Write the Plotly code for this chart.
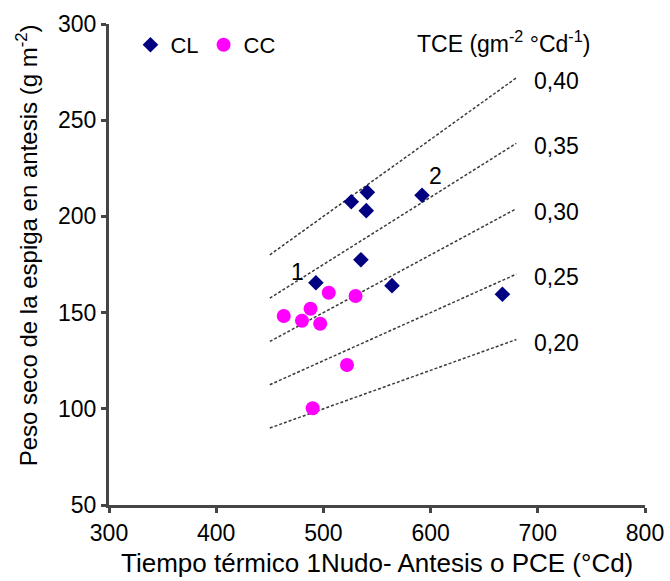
import plotly.graph_objects as go

# Data
cl_x = [526, 541, 540, 592, 535, 493, 564, 667]
cl_y = [207.6, 212.5, 203, 211, 177.5, 165.5, 164, 159.5]
cc_x = [505, 530, 463, 488, 480, 497, 522, 490]
cc_y = [160.3, 158.6, 148.2, 152, 145.8, 144.2, 122.8, 100.3]

tce_values = [0.20, 0.25, 0.30, 0.35, 0.40]
tce_labels = ["0,20", "0,25", "0,30", "0,35", "0,40"]
line_x = [450, 680]

x_ticks = [300, 400, 500, 600, 700, 800]
y_ticks = [50, 100, 150, 200, 250, 300]

FONT = "Liberation Sans, Arial, sans-serif"
AXIS_COLOR = "#454545"
TXT = 23

fig = go.Figure()

for t in tce_values:
    fig.add_trace(go.Scatter(
        x=line_x, y=[t * v for v in line_x], mode="lines",
        line=dict(color="#3a3a3a", width=1.5, dash="3px,2px"),
        showlegend=False, hoverinfo="skip"))

fig.add_trace(go.Scatter(
    x=cl_x, y=cl_y, mode="markers", name="CL",
    marker=dict(symbol="diamond", size=12, color="#000080")))
fig.add_trace(go.Scatter(
    x=cc_x, y=cc_y, mode="markers", name="CC",
    marker=dict(symbol="circle", size=14, color="#FF00FF")))

annotations = []
for t, lab in zip(tce_values, tce_labels):
    annotations.append(dict(x=695, y=t * 680, yshift=-3, text=lab, showarrow=False,
                            xanchor="left", yanchor="middle",
                            font=dict(size=TXT, color="black", family=FONT)))
annotations.append(dict(x=585, y=290.5, text="TCE (gm<sup>-2</sup> °Cd<sup>-1</sup>)",
                        showarrow=False, xanchor="left", yanchor="middle",
                        font=dict(size=TXT, color="black", family=FONT)))
annotations.append(dict(x=476, y=171, text="1", showarrow=False,
                        font=dict(size=TXT, color="black", family=FONT)))
annotations.append(dict(x=605, y=221, text="2", showarrow=False,
                        font=dict(size=TXT, color="black", family=FONT)))
# axis titles
annotations.append(dict(xref="paper", yref="paper", x=0, y=0.54, xshift=-82,
                        text="Peso seco de la espiga en antesis (g m<sup>-2</sup>)",
                        textangle=-90, showarrow=False,
                        xanchor="center", yanchor="middle",
                        font=dict(size=24, color="black", family=FONT)))
annotations.append(dict(xref="paper", yref="paper", x=0.5, y=0, yshift=-58,
                        text="Tiempo térmico 1Nudo- Antesis o PCE (°Cd)",
                        showarrow=False, xanchor="center", yanchor="middle",
                        font=dict(size=26, color="black", family=FONT)))

fig.update_layout(
    width=670, height=581,
    margin=dict(l=109, r=25, t=24, b=76),
    paper_bgcolor="white", plot_bgcolor="white",
    font=dict(family=FONT, size=TXT, color="black"),
    annotations=annotations,
    legend=dict(orientation="h", x=0.04, y=1.0, xanchor="left", yanchor="top",
                bgcolor="rgba(0,0,0,0)", font=dict(size=22, family=FONT),
                itemwidth=30, tracegroupgap=0),
    xaxis=dict(range=[300, 800], tickvals=x_ticks, showgrid=False, zeroline=False,
               showline=True, linecolor=AXIS_COLOR, linewidth=3,
               ticks="outside", ticklen=5, tickwidth=3, tickcolor=AXIS_COLOR,
               tickfont=dict(size=TXT, family=FONT), automargin=False),
    yaxis=dict(range=[50, 300], tickvals=y_ticks, showgrid=False, zeroline=False,
               showline=True, linecolor=AXIS_COLOR, linewidth=3,
               ticks="outside", ticklen=5, tickwidth=3, tickcolor=AXIS_COLOR,
               tickfont=dict(size=TXT, family=FONT), automargin=False),
)

fig.write_html("out.html", config={"displayModeBar": False},
               post_script="document.body.style.margin='0';document.body.style.padding='0';")
